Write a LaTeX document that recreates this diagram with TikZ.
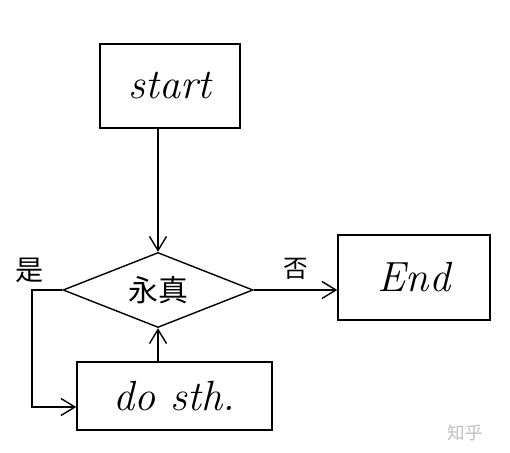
\documentclass[tikz,border=0pt]{standalone}
\usepackage{fontspec}
\newfontfamily\cjk{Noto Sans CJK SC}
\usetikzlibrary{shapes.geometric,arrows.meta}
\tikzset{
    box/.style={draw,line width=0.8pt,inner sep=0pt},
    cond/.style={draw,diamond,line width=0.8pt,inner sep=0pt,aspect=2.53},
    hand/.style={font=\fontsize{24}{26}\selectfont\itshape},
    flow/.style={->,line width=0.8pt,>={Straight Barb[length=2.8mm,width=3.4mm]}}
}
\begin{document}
\begin{tikzpicture}
        \useasboundingbox (0,0) rectangle (10.2,9.04);
        \node[box,hand,minimum width=2.8cm,minimum height=1.68cm] (start) at (3.4,7.32) {start};
        \node[cond,minimum width=3.8cm,minimum height=1.5cm] (loop) at (3.16,3.24) {\cjk\fontsize{17}{19}\selectfont 永真};
        \node[box,hand,minimum width=3.04cm,minimum height=1.7cm] (end) at (8.28,3.49) {End};
        \node[box,hand,minimum width=3.9cm,minimum height=1.36cm] (body) at (3.49,1.12) {do sth.};
        \node[font=\cjk\fontsize{16}{18}\selectfont] (yes) at (0.6,3.64) {是};
        \coordinate (back) at (0.64,0.9);
        \draw[flow] (start.south -| loop.north) -- (loop.north);
        \draw[flow] (loop.east) -- (loop.east -| end.west) node[midway,above=2pt,font=\cjk\fontsize{14}{16}\selectfont] {否};
        \draw[flow] (loop.west) -- (loop.west -| back) -- (back) -- (back -| body.west);
        \draw[flow] (body.north -| loop.south) -- (loop.south);
        \node[font=\cjk\fontsize{10}{12}\selectfont,text=black!25] (mark) at (9.3,0.38) {知乎};
    \end{tikzpicture}
\end{document}
